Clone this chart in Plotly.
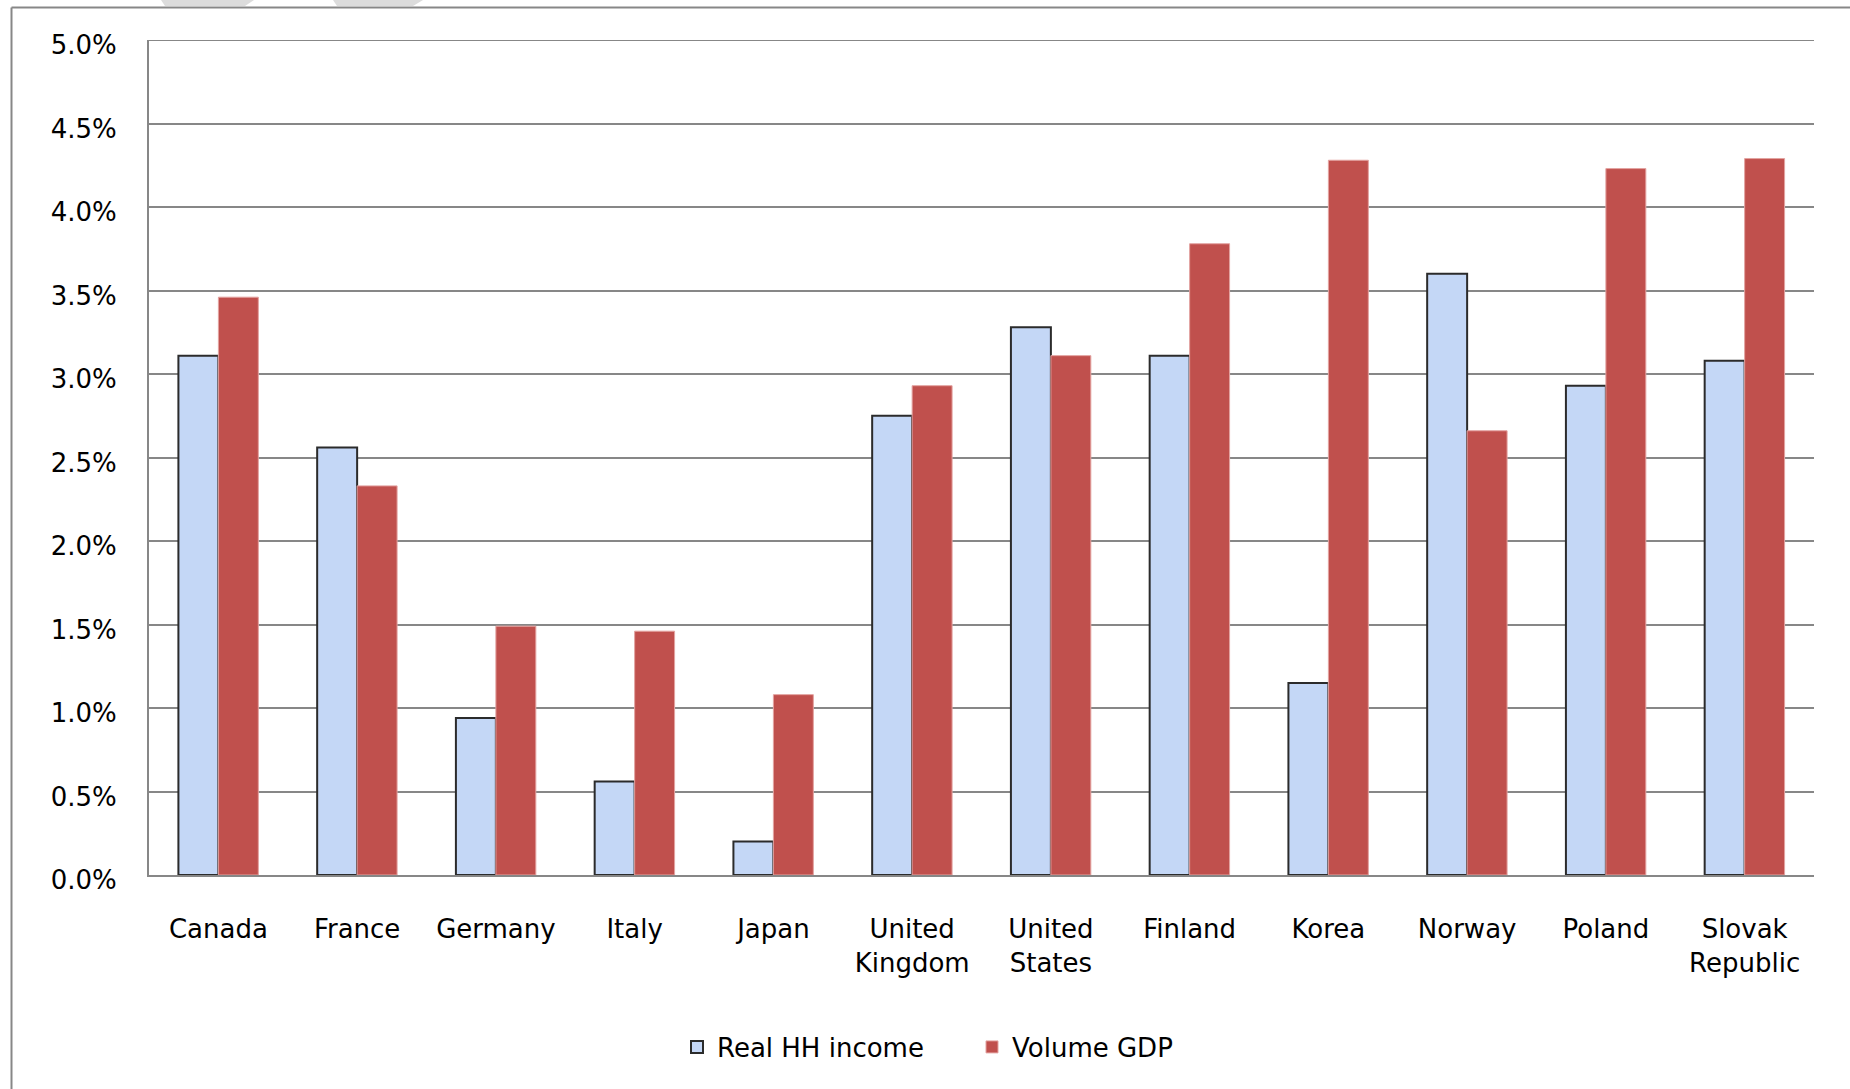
import plotly.graph_objects as go

# ---- data ----
categories = ["Canada", "France", "Germany", "Italy", "Japan", "United Kingdom",
              "United States", "Finland", "Korea", "Norway", "Poland", "Slovak Republic"]
category_labels = ["Canada", "France", "Germany", "Italy", "Japan", "United<br>Kingdom",
                   "United<br>States", "Finland", "Korea", "Norway", "Poland", "Slovak<br>Republic"]
real_hh_income = [3.11, 2.56, 0.94, 0.56, 0.20, 2.75, 3.28, 3.11, 1.15, 3.60, 2.93, 3.08]
volume_gdp = [3.46, 2.33, 1.49, 1.46, 1.08, 2.93, 3.11, 3.78, 4.28, 2.66, 4.23, 4.29]
series_names = ["Real HH income", "Volume GDP"]
y_tickvals = [0, 0.5, 1.0, 1.5, 2.0, 2.5, 3.0, 3.5, 4.0, 4.5, 5.0]
y_ticktext = ["0.0%", "0.5%", "1.0%", "1.5%", "2.0%", "2.5%", "3.0%", "3.5%", "4.0%", "4.5%", "5.0%"]
y_max = 5.0

# ---- layout geometry (pixels) ----
W, H = 1850, 1089
L, R, T, B = 149, 36, 40, 214
PW, PH = W - L - R, H - T - B

def px(x):
    return (x - L) / PW

def py(y):
    return (H - B - y) / PH

FONT = "DejaVu Sans"
GRID = "#878787"

fig = go.Figure()
fig.add_trace(go.Bar(
    x=categories, y=real_hh_income, name=series_names[0],
    marker=dict(color="#c4d7f6", line=dict(color="#2b2b2b", width=2)),
))
fig.add_trace(go.Bar(
    x=categories, y=volume_gdp, name=series_names[1],
    marker=dict(color="#c0504d", line=dict(color="#e3a3a1", width=1)),
))

shapes = []
# top gridline at the axis maximum
shapes.append(dict(type="line", xref="paper", yref="y", layer="below",
                   x0=0, x1=1, y0=y_max, y1=y_max,
                   line=dict(color=GRID, width=2)))
# outer frame (top and left edges visible)
shapes.append(dict(type="line", xref="paper", yref="paper",
                   x0=px(11.5), x1=px(W + 5), y0=py(7.5), y1=py(7.5),
                   line=dict(color=GRID, width=2)))
shapes.append(dict(type="line", xref="paper", yref="paper",
                   x0=px(11.5), x1=px(11.5), y0=py(7.5), y1=py(H + 5),
                   line=dict(color=GRID, width=2)))
# faint grey blobs at the top edge
for (a, b, c, d) in [(161, 254, 245, 165), (333, 423, 413, 337)]:
    path = (f"M {px(a)} {py(0)} L {px(b)} {py(0)} L {px(c)} {py(6)} "
            f"L {px(d)} {py(6)} Z")
    shapes.append(dict(type="path", xref="paper", yref="paper", path=path,
                       fillcolor="#dcdcdc", line=dict(width=0)))

fig.update_layout(
    width=W, height=H, autosize=False,
    margin=dict(l=L, r=R, t=T, b=B, pad=0),
    paper_bgcolor="white", plot_bgcolor="white",
    barmode="group", bargap=0.424, bargroupgap=0,
    font=dict(family=FONT, size=26, color="#000000"),
    showlegend=True,
    legend=dict(orientation="h", x=px(677), xanchor="left", y=py(1047), yanchor="middle",
                font=dict(family=FONT, size=26, color="#000000"),
                bgcolor="rgba(0,0,0,0)", entrywidth=250, traceorder="normal"),
    shapes=shapes,
)
fig.update_xaxes(
    type="category", categoryorder="array", categoryarray=categories,
    tickvals=categories, ticktext=category_labels,
    range=[-0.5, 11.5], showgrid=False, zeroline=False,
    showline=True, linecolor=GRID, linewidth=2,
    ticks="", ticklabelstandoff=30,
    tickfont=dict(family=FONT, size=26, color="#000000"),
)
fig.update_yaxes(
    range=[0, y_max], tickvals=y_tickvals, ticktext=y_ticktext,
    showgrid=True, gridcolor=GRID, gridwidth=2, zeroline=False,
    showline=True, linecolor=GRID, linewidth=2,
    ticks="", ticklabelstandoff=25, ticklabelshift=5,
    tickfont=dict(family=FONT, size=26, color="#000000"),
)

fig.write_html("out.html")
